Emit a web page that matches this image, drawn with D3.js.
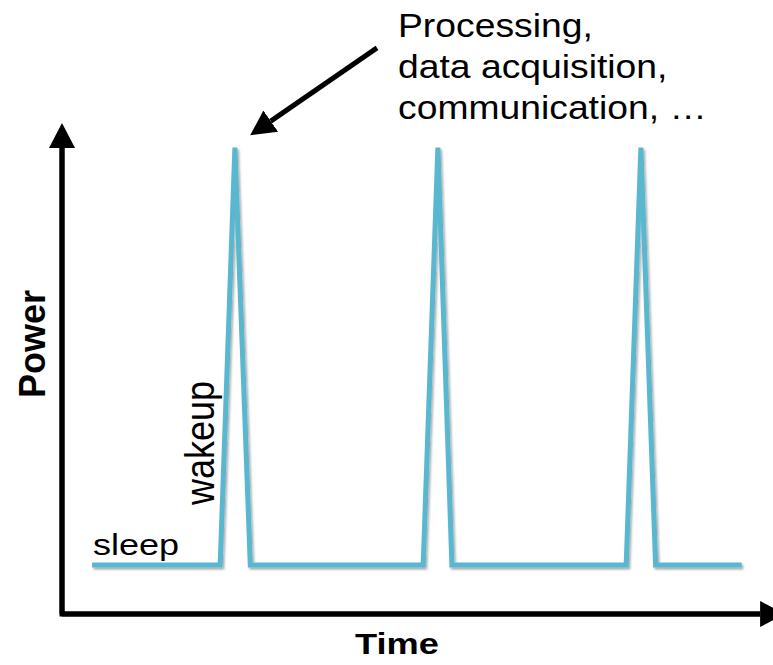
<!DOCTYPE html>
<html>
<head>
<meta charset="utf-8">
<script src="https://cdn.jsdelivr.net/npm/d3@7"></script>
<style>
  body { margin: 0; background: #fff; }
  text { font-family: "Liberation Sans", Arial, Helvetica, sans-serif; fill: #000; }
</style>
</head>
<body>
<div id="chart"></div>
<script>
// duty cycle trace: time (arbitrary units) vs power (arbitrary units)
const times = [4.3, 22.6, 24.7, 26.9, 51.6, 53.7, 55.7, 80.6, 82.7, 84.8, 97.1];
const power = [10, 10, 95, 10, 10, 95, 10, 10, 95, 10, 10];
const noteLines = ["Processing,", "data acquisition,", "communication, …"];
const noteFrom = {t: 45, p: 115.3};
const noteTo = {t: 27, p: 97.6};
const xTitle = "Time";
const yTitle = "Power";
const sleepLabel = "sleep";
const wakeLabel = "wakeup";
const xMax = 103.3, yMax = 100;

const W = 773, H = 665;
const x = d3.scaleLinear().domain([0, 100]).range([62, 762]);
const y = d3.scaleLinear().domain([0, 100]).range([614, 123]);

const svg = d3.select("#chart").append("svg")
    .attr("width", W).attr("height", H);

const defs = svg.append("defs");
defs.append("marker")
    .attr("id", "head")
    .attr("markerUnits", "userSpaceOnUse")
    .attr("viewBox", "0 -14 26 28")
    .attr("markerWidth", 26).attr("markerHeight", 28)
    .attr("refX", 0).attr("refY", 0)
    .attr("orient", "auto")
    .append("path").attr("d", "M0,-13L25,0L0,13Z").attr("fill", "#000");
const f = defs.append("filter").attr("id", "shadow")
    .attr("x", "-20%").attr("y", "-20%").attr("width", "140%").attr("height", "140%");
f.append("feDropShadow").attr("dx", 1.5).attr("dy", 2).attr("stdDeviation", 1.2)
    .attr("flood-color", "#000").attr("flood-opacity", 0.35);

// shorten a segment so the marker tip lands on the end point
function arrow(x1, y1, x2, y2, head = 25) {
    const dx = x2 - x1, dy = y2 - y1, len = Math.hypot(dx, dy);
    svg.append("line")
        .attr("x1", x1).attr("y1", y1)
        .attr("x2", x2 - dx / len * head).attr("y2", y2 - dy / len * head)
        .attr("stroke", "#000").attr("stroke-width", 5)
        .attr("marker-end", "url(#head)");
}

// axes
svg.append("path")
    .attr("d", `M${x(0)},${y(yMax) + 25}V${y(0)}H${x(xMax) - 25}`)
    .attr("fill", "none").attr("stroke", "#000").attr("stroke-width", 5)
    .attr("stroke-linejoin", "miter");
arrow(x(0), y(0), x(0), y(yMax));
arrow(x(0), y(0), x(xMax), y(0));

// power trace
const pts = times.map((t, i) => [t, power[i]]);
const line = d3.line().x(d => x(d[0])).y(d => y(d[1]));
svg.append("path")
    .datum(pts)
    .attr("d", line)
    .attr("fill", "none")
    .attr("stroke", "#5ab7d0")
    .attr("stroke-width", 5)
    .attr("stroke-linejoin", "miter")
    .attr("filter", "url(#shadow)");

// annotation
arrow(x(noteFrom.t), y(noteFrom.p), x(noteTo.t), y(noteTo.p), 24);
const note = svg.append("g").attr("transform", "translate(398,0) scale(1.13,1)");
note.selectAll("text").data(noteLines).enter().append("text")
    .attr("x", 0).attr("y", (d, i) => 37 + i * 41)
    .style("font-size", "33px")
    .text(d => d);

// labels
svg.append("text")
    .attr("transform", "translate(93,555) scale(1.2,1)")
    .style("font-size", "30px")
    .text(sleepLabel);
svg.append("text")
    .attr("transform", "translate(214,443) scale(1.15,1) rotate(-90)")
    .attr("text-anchor", "middle")
    .style("font-size", "36px")
    .text(wakeLabel);
svg.append("text")
    .attr("transform", "translate(45,344) scale(1.05,1) rotate(-90)")
    .attr("text-anchor", "middle")
    .style("font-size", "36px").style("font-weight", "bold")
    .text(yTitle);
svg.append("text")
    .attr("transform", "translate(397,654) scale(1.25,1)")
    .attr("text-anchor", "middle")
    .style("font-size", "29px").style("font-weight", "bold")
    .text(xTitle);
</script>
</body>
</html>
